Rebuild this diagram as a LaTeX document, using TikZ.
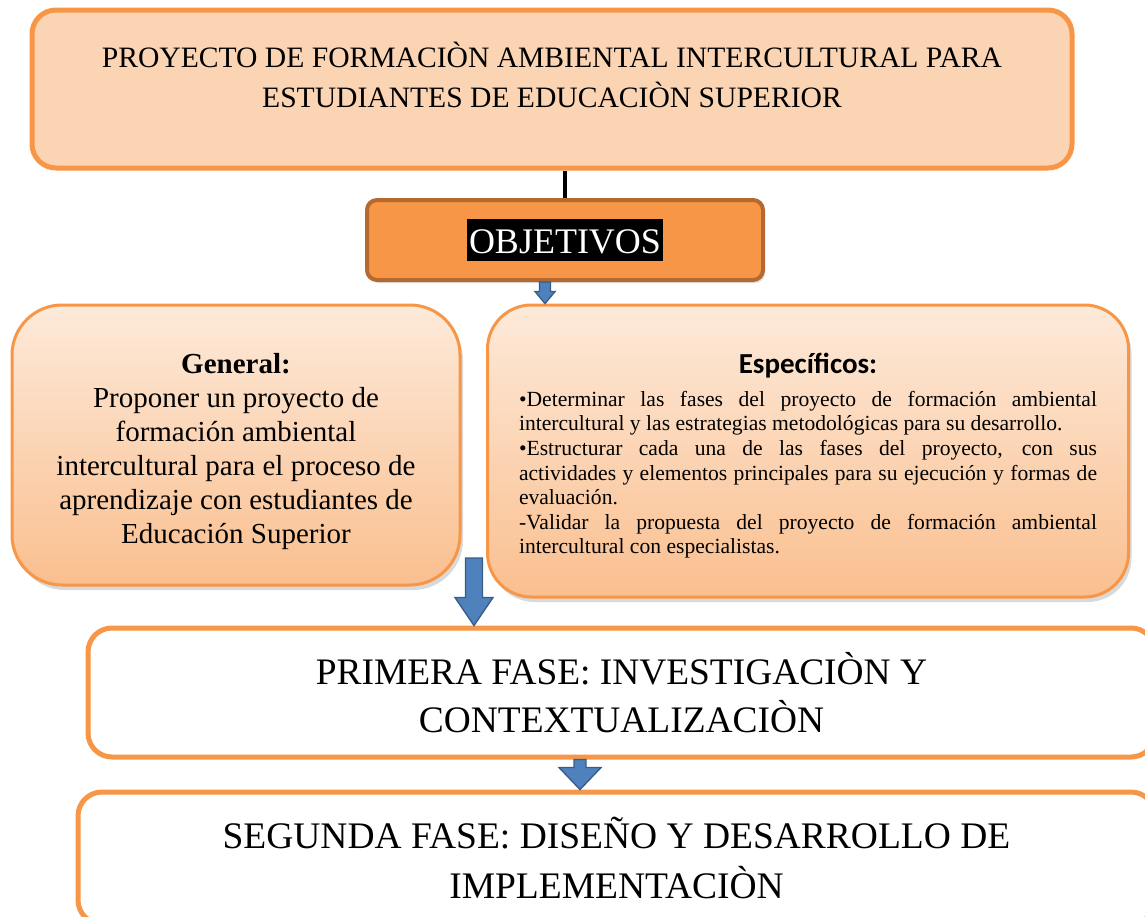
\documentclass[tikz,border=0pt]{standalone}
\usepackage{fontspec}
\setmainfont{Liberation Serif}
\newfontfamily\calibrifont{Carlito}
\usetikzlibrary{calc, shadows}

\definecolor{orangeEdge}{HTML}{F79646}
\definecolor{projFill}{HTML}{FBD4B4}
\definecolor{objFill}{HTML}{F79646}
\definecolor{objEdge}{HTML}{B3692F}
\definecolor{peachTop}{HTML}{FDEADA}
\definecolor{peachBot}{HTML}{FABF8F}
\definecolor{arrBlue}{HTML}{4F81BD}
\definecolor{arrEdge}{HTML}{385D8A}

% block arrow pointing down: start, tip, half shaft, half head, head length
\newcommand{\blockarrow}[5]{%
  \draw[blockarr] let \p1=(#1), \p2=(#2) in
    (\x2-#3,\y1) -- (\x2-#3,\y2+#5) -- (\x2-#4,\y2+#5) -- (\x2,\y2)
    -- (\x2+#4,\y2+#5) -- (\x2+#3,\y2+#5) -- (\x2+#3,\y1) -- cycle;}

\begin{document}
\begin{tikzpicture}[
  x=0.5pt, y=-0.5pt,
  box/.style={draw=orangeEdge, align=center, inner sep=0pt},
  projB/.style={box, fill=projFill, line width=2.5pt, rounded corners=12pt, minimum width=520pt, minimum height=79pt},
  projT/.style={anchor=north, yshift=-17pt, inner sep=0pt, align=center, font=\fontsize{14.8}{20}\selectfont},
  objB/.style={box, draw=objEdge, fill=objFill, line width=2pt, rounded corners=5pt, minimum width=198pt, minimum height=40pt,
    drop shadow={opacity=.25, shadow xshift=1pt, shadow yshift=-1.5pt}},
  goalB/.style={box, line width=1.5pt, top color=peachTop, bottom color=peachBot,
    drop shadow={opacity=.3, shadow xshift=1.5pt, shadow yshift=-2.5pt}},
  phaseB/.style={box, fill=white, line width=2.5pt, rounded corners=12pt},
  blockarr/.style={fill=arrBlue, draw=arrEdge, line width=0.7pt, line join=miter},
  link/.style={line width=2pt, black}
]
\useasboundingbox (0,0) rectangle (1145,916);
\clip (0,0) rectangle (1145,916);

\node[projB, label={[projT]north:PROYECTO DE FORMACIÒN AMBIENTAL INTERCULTURAL PARA\\ESTUDIANTES DE EDUCACIÒN SUPERIOR}] (proj) at (552,89) {};

\node[objB] (obj) at (565,240) {\setlength{\fboxsep}{1pt}\colorbox{black}{\rule[-3pt]{0pt}{19pt}\textcolor{white}{\fontsize{18}{21}\selectfont OBJETIVOS}}};

\node[goalB, rounded corners=25pt, minimum width=224pt, minimum height=140pt, font=\fontsize{14.5}{17}\selectfont] (gen) at (236,445)
  {\rule{0pt}{4pt}\\[-4pt]{\bfseries General:}\\Proponer un proyecto de\\formación ambiental\\intercultural para el proceso de\\aprendizaje con estudiantes de\\Educación Superior};

\node[goalB, rounded corners=22pt, minimum width=320.5pt, minimum height=146pt, text width=289pt, align=justify, font=\fontsize{10.8}{12.3}\selectfont] (esp) at (808,451)
  {{\centering\calibrifont\bfseries\fontsize{14.5}{17}\selectfont\rule{0pt}{15pt}Específicos:\par}\vspace{4pt}
   •Determinar las fases del proyecto de formación ambiental\linebreak intercultural y las estrategias metodológicas para su desarrollo.\par
   •Estructurar cada una de las fases del proyecto, con sus\linebreak actividades y elementos principales para su ejecución y formas de\linebreak evaluación.\par
   -Validar la propuesta del proyecto de formación ambiental\linebreak intercultural con especialistas.};

\node[phaseB, minimum width=533.5pt, minimum height=64.5pt, font=\fontsize{18.7}{24}\selectfont] (f1) at (621.5,692.5)
  {PRIMERA FASE: INVESTIGACIÒN Y\\CONTEXTUALIZACIÒN};

\node[phaseB, minimum width=538.5pt, minimum height=66pt, font=\fontsize{18.75}{25}\selectfont] (f2) at (616.5,858)
  {SEGUNDA FASE: DISEÑO Y DESARROLLO DE\\IMPLEMENTACIÒN};

\draw[link] (obj.north) -- (obj.north |- proj.south);

\coordinate (a1) at ($(obj.south)+(-20,0)$);
\coordinate (a2) at (474,558);
\coordinate (a3) at ($(f1.south)+(-41.5,0)$);
\blockarrow{a1}{a1 |- esp.north}{2.75pt}{5pt}{6pt}
\blockarrow{a2}{a2 |- f1.north}{4.25pt}{9.5pt}{14pt}
\blockarrow{a3}{a3 |- f2.north}{3pt}{10.5pt}{11pt}
\end{tikzpicture}
\end{document}
